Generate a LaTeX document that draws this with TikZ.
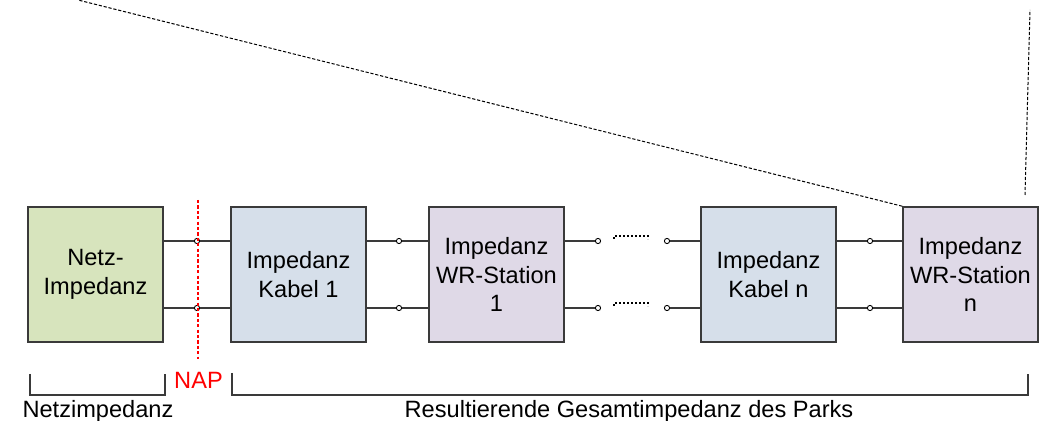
\documentclass[tikz,border=0pt]{standalone}
\usepackage{fontspec}
\setmainfont{Liberation Sans}
\definecolor{netzfill}{HTML}{D7E4BD}
\definecolor{kabelfill}{HTML}{D6DFEA}
\definecolor{wrfill}{HTML}{DFD9E7}
\definecolor{edge}{HTML}{3A3A3A}
\definecolor{napred}{HTML}{FF0000}
\tikzset{
  block/.style={draw=edge, line width=0.8pt, minimum width=67.5pt, minimum height=67.5pt,
    inner sep=0pt, align=center, font=\fontsize{11.8}{14.2}\selectfont},
  term/.style={circle, draw=black, fill=white, line width=0.45pt, inner sep=0pt, minimum size=2.6pt},
  wire/.style={draw=edge, line width=0.7pt},
  gapline/.style={draw=black, line width=0.6pt, dash pattern=on 1.1pt off 0.9pt},
  zoomline/.style={draw=black, line width=0.5pt, dash pattern=on 1.6pt off 0.9pt},
  bracket/.style={draw=edge, line width=0.7pt},
  label/.style={font=\fontsize{11.8}{14.2}\selectfont, inner sep=0pt},
}
\begin{document}
\begin{tikzpicture}[x=0.5pt, y=-0.5pt]
\useasboundingbox (0,0) rectangle (1051,421);

% impedance blocks
\node[block, fill=netzfill]  (netz) at (95.5,274.5) {Netz-\\Impedanz};
\node[block, fill=kabelfill] (kab1) at (298.5,274.5) {Impedanz\\Kabel 1};
\node[block, fill=wrfill]    (wr1)  at (496.5,274.5) {Impedanz\\WR-Station\\1};
\node[block, fill=kabelfill] (kabn) at (768.5,274.5) {Impedanz\\Kabel n};
\node[block, fill=wrfill]    (wrn)  at (970.5,274.5) {Impedanz\\WR-Station\\n};

% terminals on the two conductors
\node[term] (t1a) at (197,241) {};
\node[term] (t1b) at (197,308) {};
\node[term] (t2a) at (399,241) {};
\node[term] (t2b) at (399,308) {};
\node[term] (t3a) at (598,241) {};
\node[term] (t3b) at (598,308) {};
\node[term] (t4a) at (667,241) {};
\node[term] (t4b) at (667,308) {};
\node[term] (t5a) at (870,241) {};
\node[term] (t5b) at (870,308) {};

% conductors between the blocks
\foreach \r in {a,b}{
  \draw[wire] (netz.east |- t1\r) -- (t1\r) -- (kab1.west |- t1\r);
  \draw[wire] (kab1.east |- t2\r) -- (t2\r) -- (wr1.west |- t2\r);
  \draw[wire] (wr1.east |- t3\r) -- (t3\r);
  \draw[wire] (t4\r) -- (kabn.west |- t4\r);
  \draw[wire] (kabn.east |- t5\r) -- (t5\r) -- (wrn.west |- t5\r);
}

% omitted stations in between
\draw[gapline] (614,239) -- (614,236) -- (648,236) -- (648,239);
\draw[gapline] (614,306) -- (614,303) -- (648,303) -- (648,306);

% grid connection point
\coordinate (napTop) at (198,200);
\coordinate (napBot) at (198,359);
\draw[napred, line width=1pt, dash pattern=on 1.6pt off 1.1pt] (napTop) -- (napBot);
\node[label, text=napred, anchor=base] (nap) at (198.5,389) {NAP};

% magnification lines
\coordinate (zl) at (78,0);
\coordinate (zrTop) at (1030,10);
\coordinate (zrBot) at (1025,195);
\draw[zoomline] (wrn.north west) -- (zl);
\draw[zoomline] (zrBot) -- (zrTop);

% brackets with captions
\draw[bracket] (30,374) -- (30,395) -- (165,395) -- (165,374);
\draw[bracket] (232,373) -- (232,395) -- (1028,395) -- (1028,374);
\node[label, anchor=base] (capNetz) at (98,418) {Netzimpedanz};
\node[label, anchor=base] (capPark) at (629,418) {Resultierende Gesamtimpedanz des Parks};
\end{tikzpicture}
\end{document}
